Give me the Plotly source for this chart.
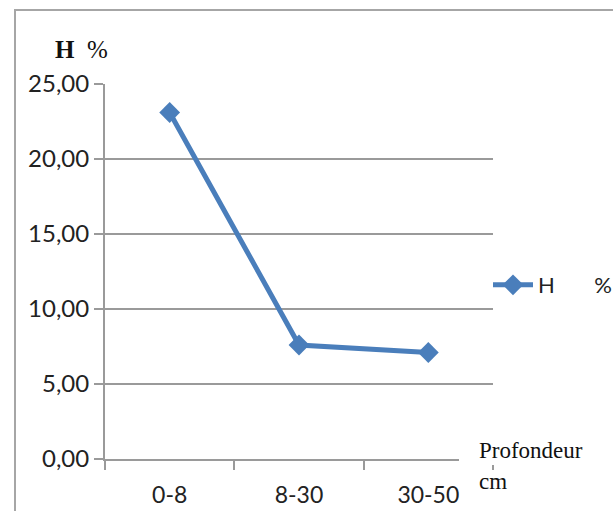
import plotly.graph_objects as go

categories = ["0-8", "8-30", "30-50"]
h_values = [23.1, 7.6, 7.1]
y_ticks = [0, 5, 10, 15, 20, 25]

L, R, T, B = 105, 493, 84, 459
W, H = 613, 511

def px(x):
    return (x - L) / (R - L)

def py(y):
    return (B - y) / (B - T)

blue = "#4A7EBB"
grid = "#9A9A9A"

fig = go.Figure()
fig.add_trace(go.Scatter(
    x=categories, y=h_values, mode="lines+markers",
    name="H\u00a0\u00a0\u00a0\u00a0\u00a0\u00a0\u00a0%",
    line=dict(color=blue, width=5),
    marker=dict(symbol="diamond", size=16, color=blue),
))

fig.update_layout(
    width=W, height=H,
    margin=dict(l=L, r=W - R, t=T, b=H - B, autoexpand=False),
    paper_bgcolor="white", plot_bgcolor="white",
    separators=",.",
    font=dict(family="Lato", size=23, color="#222222"),
    showlegend=True,
    legend=dict(xref="container", yref="container",
                x=488 / W, y=1 - 285 / H, xanchor="left", yanchor="middle",
                bgcolor="rgba(0,0,0,0)", font=dict(family="Lato", size=22),
                itemwidth=40),
    xaxis=dict(type="category", range=[-0.5, 2.5], showgrid=False,
               showline=True, linecolor=grid, linewidth=2,
               ticks="outside", tickson="boundaries", ticklen=9,
               tickcolor=grid, tickwidth=2, tickfont=dict(size=23),
               ticklabelstandoff=14, automargin=False),
    yaxis=dict(range=[0, 25], tickvals=y_ticks, tickformat=".2f",
               showgrid=True, gridcolor=grid, gridwidth=2,
               showline=True, linecolor=grid, linewidth=2,
               ticks="outside", ticklen=9, tickcolor=grid, tickwidth=2,
               zeroline=False, tickfont=dict(size=24), automargin=False),
)

# cover the end of the x axis line behind the axis title
fig.add_shape(type="rect", xref="paper", yref="paper",
              x0=px(459), x1=px(500), y0=py(465), y1=py(453),
              fillcolor="white", line=dict(width=0), layer="above")
# outer chart border
fig.add_shape(type="rect", xref="paper", yref="paper",
              x0=px(15), x1=px(660), y0=py(560), y1=py(10),
              fillcolor="rgba(0,0,0,0)", line=dict(color="#A6A6A6", width=2),
              layer="above")

fig.add_annotation(text="<b>H</b>\u00a0\u00a0%", xref="paper", yref="paper",
                   x=px(53), y=py(49), xanchor="left", yanchor="middle",
                   showarrow=False,
                   font=dict(family="Liberation Serif", size=25, color="#111111"))
fig.add_annotation(text="Profondeur", xref="paper", yref="paper",
                   x=px(477), y=py(450), xanchor="left", yanchor="middle",
                   showarrow=False,
                   font=dict(family="Liberation Serif", size=23, color="#111111"))
fig.add_annotation(text="cm", xref="paper", yref="paper",
                   x=px(477), y=py(482), xanchor="left", yanchor="middle",
                   showarrow=False,
                   font=dict(family="Liberation Serif", size=23, color="#111111"))

fig.write_html("out.html")
